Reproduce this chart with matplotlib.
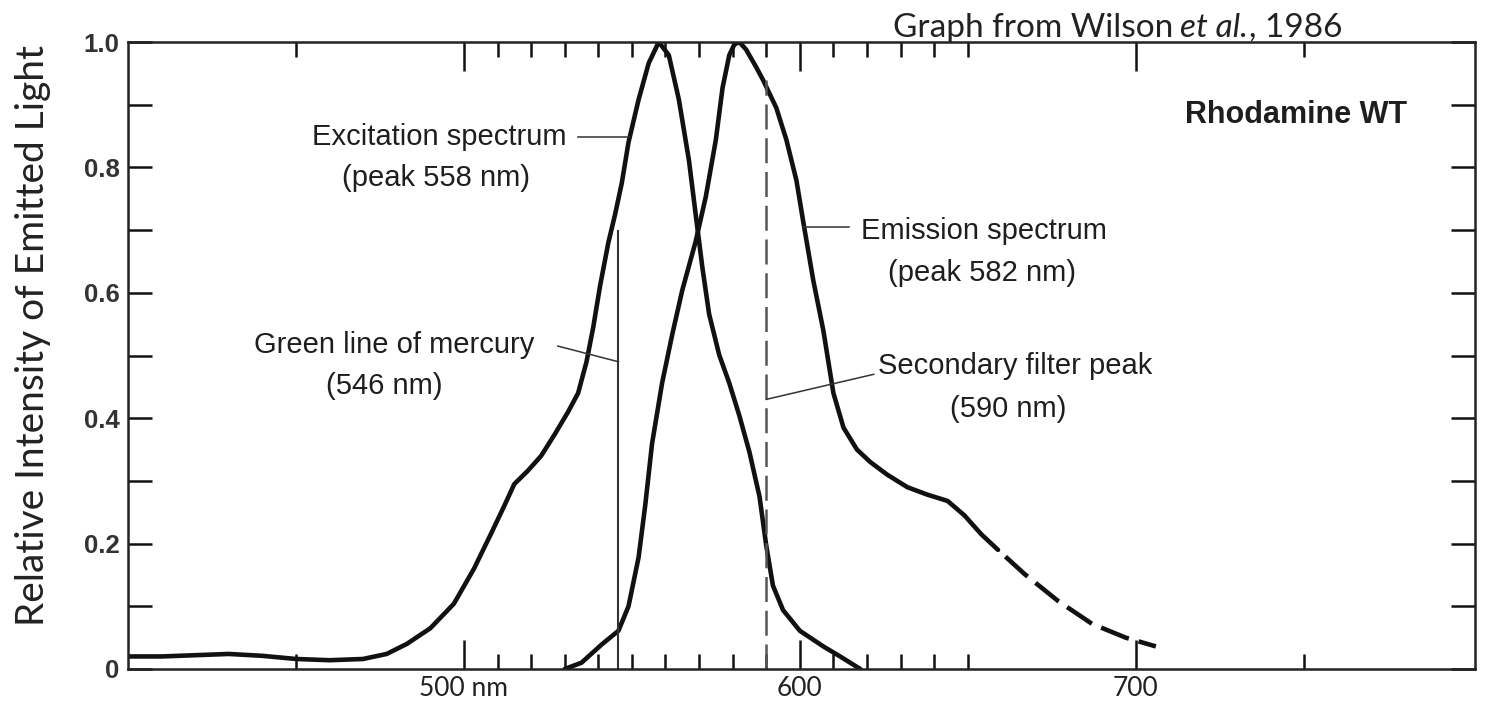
import matplotlib.pyplot as plt


# excitation spectrum (wavelength nm, relative intensity)
exc_nm = [400, 410, 420, 430, 440, 450, 460, 470, 477, 483, 490, 497, 503,
          508, 512, 515, 519, 523, 527, 531, 534, 536.5, 538.5, 540.5, 543,
          545, 547, 549, 552, 555, 558, 561, 564, 567, 569, 571, 573, 576,
          579, 582, 585, 588, 590, 592, 595, 600, 607, 612, 618]
exc_val = [0.020, 0.020, 0.022, 0.024, 0.021, 0.016, 0.014, 0.016, 0.024,
           0.040, 0.065, 0.104, 0.160, 0.215, 0.260, 0.295, 0.316, 0.340,
           0.374, 0.410, 0.440, 0.490, 0.545, 0.610, 0.680, 0.725, 0.775,
           0.840, 0.908, 0.966, 1.000, 0.979, 0.908, 0.811, 0.725, 0.640,
           0.566, 0.501, 0.456, 0.404, 0.346, 0.275, 0.197, 0.133, 0.094,
           0.061, 0.036, 0.020, 0.000]

# emission spectrum, solid part
em_nm = [530, 535, 541, 546, 549, 552, 554, 556, 559, 562, 565, 569, 572,
         575, 577, 579, 580.5, 582, 584, 587, 589, 593, 596, 599, 601, 604,
         607, 610, 613, 617, 621, 626, 632, 638, 644, 649, 654, 659]
em_val = [0.000, 0.010, 0.039, 0.061, 0.100, 0.178, 0.262, 0.359, 0.456,
          0.533, 0.604, 0.682, 0.753, 0.844, 0.927, 0.979, 0.996, 1.000,
          0.988, 0.960, 0.940, 0.895, 0.844, 0.779, 0.714, 0.620, 0.540,
          0.440, 0.385, 0.350, 0.330, 0.310, 0.290, 0.278, 0.268, 0.245,
          0.215, 0.190]

# emission spectrum, dashed (extrapolated) tail
tail_nm = [659, 667, 677, 687, 697, 706]
tail_val = [0.190, 0.151, 0.108, 0.072, 0.050, 0.036]

mercury_nm = 546
mercury_top = 0.70
filter_nm = 590
filter_top = 0.94

x_major = [500, 600, 700]
x_major_labels = ["500 nm", "600", "700"]
x_minor = [450, 510, 520, 530, 540, 550, 560, 570, 580, 590,
           610, 620, 630, 640, 650, 750]
y_ticks = [0, 0.1, 0.2, 0.3, 0.4, 0.5, 0.6, 0.7, 0.8, 0.9, 1.0]
y_tick_labels = ["0", "", "0.2", "", "0.4", "", "0.6", "", "0.8", "", "1.0"]

INK = "#111111"
GRAY = "#1e1e1e"
SCAN_FONT = "Liberation Sans"


def main():

    fig = plt.figure(figsize=(14.86, 7.11), dpi=100)
    W, H = 1486, 711
    ax = fig.add_axes([128 / W, 1 - 669 / H, (1475 - 128) / W, (669 - 42) / H])

    ax.plot(exc_nm, exc_val, color=INK, lw=3.3,
            solid_capstyle="round", solid_joinstyle="round")
    ax.plot(em_nm, em_val, color=INK, lw=3.3,
            solid_capstyle="round", solid_joinstyle="round")
    ax.plot(tail_nm, tail_val, color=INK, lw=3.3,
            linestyle=(6.5, (6.5, 2.2)), dash_capstyle="butt")

    ax.vlines(mercury_nm, 0, mercury_top, color="#333333", lw=1.5)
    ax.vlines(filter_nm, 0, filter_top, color="#555555", lw=1.8,
              linestyle=(0, (10, 3.5)))

    # leader lines to the labels
    ax.plot([534, 549], [0.848, 0.848], color="#333333", lw=1.1)
    ax.plot([528, 546], [0.515, 0.49], color="#333333", lw=1.1)
    ax.plot([601, 614.5], [0.705, 0.705], color="#333333", lw=1.1)
    ax.plot([590, 622], [0.43, 0.47], color="#333333", lw=1.1)

    label_kw = dict(family=SCAN_FONT, fontsize=21, color=GRAY,
                    ha="center", va="center")
    ax.text(492.6, 0.848, "Excitation spectrum", **label_kw)
    ax.text(491.6, 0.783, "(peak 558 nm)", **label_kw)
    ax.text(479.3, 0.517, "Green line of mercury", **label_kw)
    ax.text(476.4, 0.452, "(546 nm)", **label_kw)
    ax.text(654.9, 0.699, "Emission spectrum", **label_kw)
    ax.text(654.3, 0.631, "(peak 582 nm)", **label_kw)
    ax.text(664.1, 0.484, "Secondary filter peak", **label_kw)
    ax.text(662.0, 0.415, "(590 nm)", **label_kw)
    ax.text(747.6, 0.883, "Rhodamine WT", family=SCAN_FONT, fontsize=22,
            fontweight="bold", color=GRAY, ha="center", va="center")

    ax.set_xlim(400, 801)
    ax.set_ylim(0, 1.0)

    ax.set_xticks(x_major)
    ax.set_xticklabels(x_major_labels, family="Lato", fontsize=19,
                       color="#222222")
    ax.set_xticks(x_minor, minor=True)
    ax.set_yticks(y_ticks)
    ax.set_yticklabels(y_tick_labels, family=SCAN_FONT, fontsize=18.5,
                       fontweight="bold", color="#333333")

    ax.tick_params(axis="x", which="major", direction="in", length=21,
                   width=1.8, color=INK, top=True, pad=5)
    ax.tick_params(axis="x", which="minor", direction="in", length=11,
                   width=1.8, color=INK, top=True)
    ax.tick_params(axis="y", which="major", direction="in", length=17,
                   width=1.8, color=INK, right=True, pad=6)

    for spine in ax.spines.values():
        spine.set_linewidth(1.8)
        spine.set_color("#222222")

    fig.text(33 / W, 1 - 335 / H, "Relative Intensity of Emitted Light",
             family="Lato", fontsize=28, color="#222222", rotation=90,
             ha="center", va="center")

    # source note, set piece by piece so "et al." can be italic
    renderer = fig.canvas.get_renderer()
    note_kw = dict(family="Lato", fontsize=24, color="#222222",
                   ha="left", va="baseline")
    y_note = 1 - 37 / H
    t1 = fig.text(893 / W, y_note, "Graph from Wilson", **note_kw)
    x_next = t1.get_window_extent(renderer).x1 + 7
    t2 = fig.text(x_next / W, y_note, "et al.", style="italic", **note_kw)
    x_next = t2.get_window_extent(renderer).x1 + 1
    fig.text(x_next / W, y_note, ", 1986", **note_kw)

    fig.savefig("out.png", dpi=100, facecolor="white")
    plt.close(fig)


if __name__ == "__main__":
    main()
